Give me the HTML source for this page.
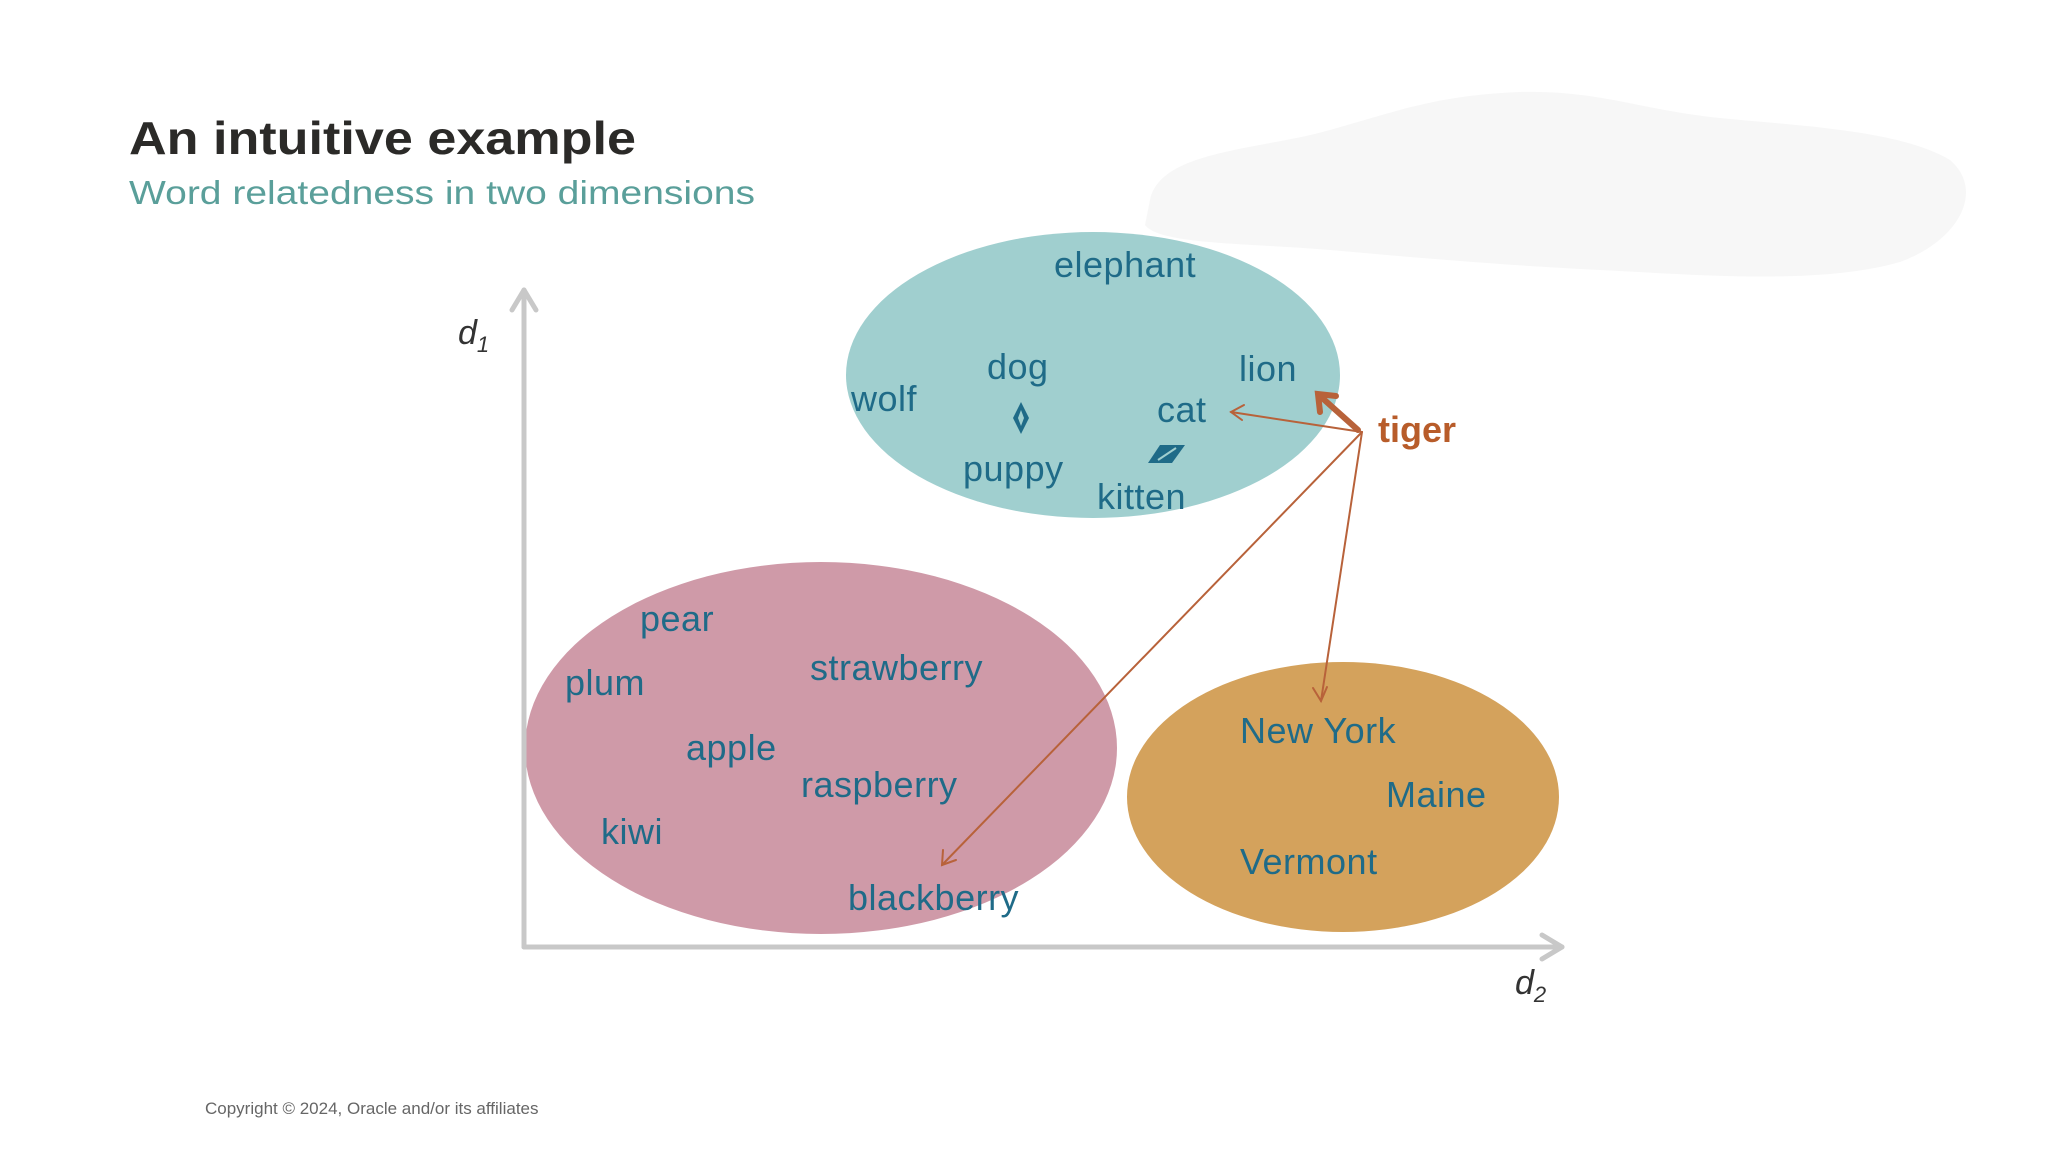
<!DOCTYPE html>
<html><head><meta charset="utf-8"><style>
html,body{margin:0;padding:0;background:#fff;}
svg{display:block;}
</style></head><body>
<svg width="2048" height="1152" viewBox="0 0 2048 1152" xmlns="http://www.w3.org/2000/svg" font-family="'Liberation Sans', sans-serif">
<path d="M1150,200 C1160,150 1260,150 1330,130 C1400,110 1440,95 1520,92 C1600,90 1640,110 1720,118 C1800,126 1900,130 1950,160 C1985,190 1960,240 1900,262 C1820,285 1700,275 1600,270 C1500,265 1420,258 1330,250 C1250,243 1160,245 1145,225 Z" fill="#f7f7f7"/>
<text x="129" y="154" font-size="46" font-weight="bold" fill="#2b2a28" textLength="507" lengthAdjust="spacingAndGlyphs">An intuitive example</text>
<text x="129" y="204" font-size="33" fill="#5a9f9a" textLength="626" lengthAdjust="spacingAndGlyphs">Word relatedness in two dimensions</text>
<ellipse cx="1093" cy="375" rx="247" ry="143" fill="#a0cfcf"/>
<ellipse cx="821" cy="748" rx="296" ry="186" fill="#cf9aa8"/>
<ellipse cx="1343" cy="797" rx="216" ry="135" fill="#d4a25c"/>
<g stroke="#c8c8c8" stroke-width="5" fill="none" stroke-linecap="round" stroke-linejoin="round">
<line x1="524" y1="290" x2="524" y2="947"/>
<line x1="524" y1="947" x2="1562" y2="947"/>
<polyline points="512,310 524,290 536,310"/>
<polyline points="1542,935 1562,947 1542,959"/>
</g>
<text x="458" y="344" font-size="34" font-style="italic" fill="#333">d<tspan font-size="22" dy="8">1</tspan></text>
<text x="1515" y="994" font-size="34" font-style="italic" fill="#333">d<tspan font-size="22" dy="8">2</tspan></text>
<g font-size="36" fill="#1f6b88" letter-spacing="0.5">
<text x="1054" y="277">elephant</text>
<text x="987" y="379">dog</text>
<text x="1239" y="381">lion</text>
<text x="851" y="411">wolf</text>
<text x="1157" y="422">cat</text>
<text x="963" y="481">puppy</text>
<text x="1097" y="509">kitten</text>
<text x="640" y="631">pear</text>
<text x="810" y="680">strawberry</text>
<text x="565" y="695">plum</text>
<text x="686" y="760">apple</text>
<text x="801" y="797">raspberry</text>
<text x="601" y="844">kiwi</text>
<text x="848" y="910">blackberry</text>
<text x="1240" y="743">New York</text>
<text x="1386" y="807">Maine</text>
<text x="1240" y="874">Vermont</text>
</g>
<path d="M1021,402 L1029,418 L1021,434 L1013,418 Z" fill="#1f6b88"/>
<path d="M1021,410 L1024,418 L1021,426 L1018,418 Z" fill="#a0cfcf"/>
<path d="M1160,445 L1185,445 L1172,463 L1148,463 Z" fill="#1f6b88"/>
<line x1="1158" y1="460" x2="1176" y2="448" stroke="#a0cfcf" stroke-width="2"/>
<text x="1378" y="442" font-size="36" font-weight="bold" fill="#b85c2a">tiger</text>
<g stroke="#b8623a" fill="none" stroke-linecap="round">
<line x1="1362" y1="432" x2="1231" y2="412" stroke-width="2"/>
<polyline points="1244,405 1231,412 1242,420" stroke-width="2"/>
<line x1="1362" y1="432" x2="942" y2="865" stroke-width="2"/>
<polyline points="943,850 942,865 956,860" stroke-width="2"/>
<line x1="1362" y1="432" x2="1321" y2="701" stroke-width="2"/>
<polyline points="1313,688 1321,701 1327,687" stroke-width="2"/>
<line x1="1358" y1="430" x2="1320" y2="396" stroke-width="6"/>
<polyline points="1320,412 1318,394 1336,396" stroke-width="6"/>
</g>
<text x="205" y="1114" font-size="17" fill="#666">Copyright © 2024, Oracle and/or its affiliates</text>
</svg>
</body></html>
